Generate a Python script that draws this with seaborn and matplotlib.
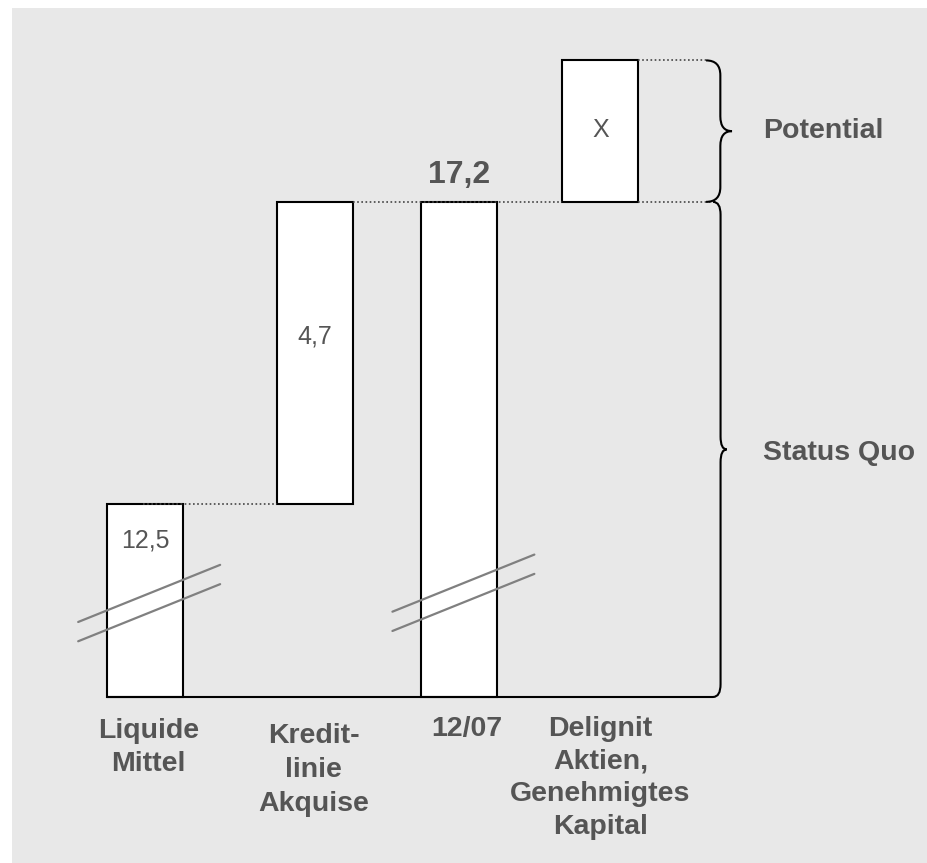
import numpy as np
import matplotlib
matplotlib.use("Agg")
import matplotlib.pyplot as plt
from matplotlib.path import Path
from matplotlib.patches import PathPatch
import seaborn as sns

# data
categories = ["Liquide\nMittel", "Kredit-\nlinie\nAkquise", "12/07",
              "Delignit\nAktien,\nGenehmigtes\nKapital"]
bar_start = [0.0, 12.5, 0.0, 17.2]
bar_end = [12.5, 17.2, 17.2, 19.4]      # last one is the unknown potential "X" (estimated)
value_labels = ["12,5", "4,7", "", "X"]
total_label = "17,2"
axis_break = 9.5                         # part of the scale cut out by the break marks
broken_bars = [0, 2]

# layout
bar_pos = [0.0, 1.12, 2.07, 3.0]
bar_width = 0.5
label_y = [2.43, 5.6, None, 8.82]
label_dx = [0.025, -0.01, 0.05, 0.0]
label_top = [-0.32, -0.40, -0.30, -0.30]
label_spacing = [1.38, 1.42, 1.33, 1.33]
break_y = {0: 1.46, 2: 1.62}
text_color = "#555555"

sns.set_theme(style="white", rc={"axes.facecolor": "#e8e8e8", "figure.facecolor": "white"})
plt.rcParams["font.family"] = ["Liberation Sans", "DejaVu Sans"]

fig = plt.figure(figsize=(9.28, 8.63), dpi=100)
ax = fig.add_axes([12 / 928, 0, 916 / 928, 855 / 863])
ax.set_xlim(-0.876, 5.158)
ax.set_ylim(-2.582, 10.715)
ax.set_xticks([])
ax.set_yticks([])
sns.despine(ax=ax, left=True, bottom=True)

def shown(v):
    return np.clip(np.array(v) - axis_break, 0, None)

bottoms = shown(bar_start)
tops = shown(bar_end)

ax.bar(bar_pos, tops - bottoms, bottom=bottoms, width=bar_width,
       color="white", edgecolor="black", linewidth=1.5, zorder=3)

# dotted connectors
dot = dict(color="#444444", linestyle=(0, (1, 1.5)), linewidth=1.2, zorder=4)
half = bar_width / 2
ax.plot([bar_pos[0] - 0.01, bar_pos[1] - half], [tops[0], tops[0]], **dot)
ax.plot([bar_pos[1] + half, bar_pos[3] - half], [tops[1], tops[1]], **dot)
ax.plot([bar_pos[3] + half, 3.742], [bottoms[3], bottoms[3]], **dot)
ax.plot([bar_pos[3] + half, 3.696], [tops[3], tops[3]], **dot)

# baseline
ax.plot([bar_pos[0] - half, 3.742], [0, 0], color="black", linewidth=1.5, zorder=4)

# break marks
for i in broken_bars:
    xs = np.array([bar_pos[i] - 0.44, bar_pos[i] + 0.495])
    for off in (0.15, -0.15):
        yc = break_y[i] + off
        ax.plot(xs, yc + (xs - bar_pos[i] - 0.027) * 0.95, color="#808080",
                linewidth=1.6, zorder=5)

def brace(x0, y0, y1, w, r):
    xm = x0 + 0.55 * w
    ym = (y0 + y1) / 2
    verts = [(x0, y1), (xm, y1), (xm, y1 - r), (xm, ym + r), (xm, ym), (x0 + w, ym),
             (xm, ym), (xm, ym - r), (xm, y0 + r), (xm, y0), (x0, y0)]
    codes = [Path.MOVETO, Path.CURVE3, Path.CURVE3, Path.LINETO, Path.CURVE3, Path.CURVE3,
             Path.CURVE3, Path.CURVE3, Path.LINETO, Path.CURVE3, Path.CURVE3]
    ax.add_patch(PathPatch(Path(verts, codes), facecolor="none", edgecolor="black",
                           linewidth=1.5, zorder=4))

brace(3.696, tops[2], tops[3], 0.171, 0.23)
brace(3.742, 0.0, tops[2], 0.09, 0.2)

# value labels
for i, lab in enumerate(value_labels):
    if lab:
        ax.text(bar_pos[i], label_y[i], lab, ha="center", va="center",
                fontsize=18, color=text_color, zorder=6)
ax.text(bar_pos[2], 8.12, total_label, ha="center", va="center",
        fontsize=23, fontweight="bold", color=text_color)

# category labels
for i, cat in enumerate(categories):
    ax.text(bar_pos[i] + label_dx[i], label_top[i], cat, ha="center", va="top",
            fontsize=20.5, fontweight="bold", color=text_color,
            linespacing=label_spacing[i])

ax.text(4.071, (tops[2] + tops[3]) / 2, "Potential", ha="left", va="center",
        fontsize=20.5, fontweight="bold", color=text_color)
ax.text(4.071, 3.795, "Status Quo", ha="left", va="center",
        fontsize=20.5, fontweight="bold", color=text_color)

fig.savefig("out.png", dpi=100)
